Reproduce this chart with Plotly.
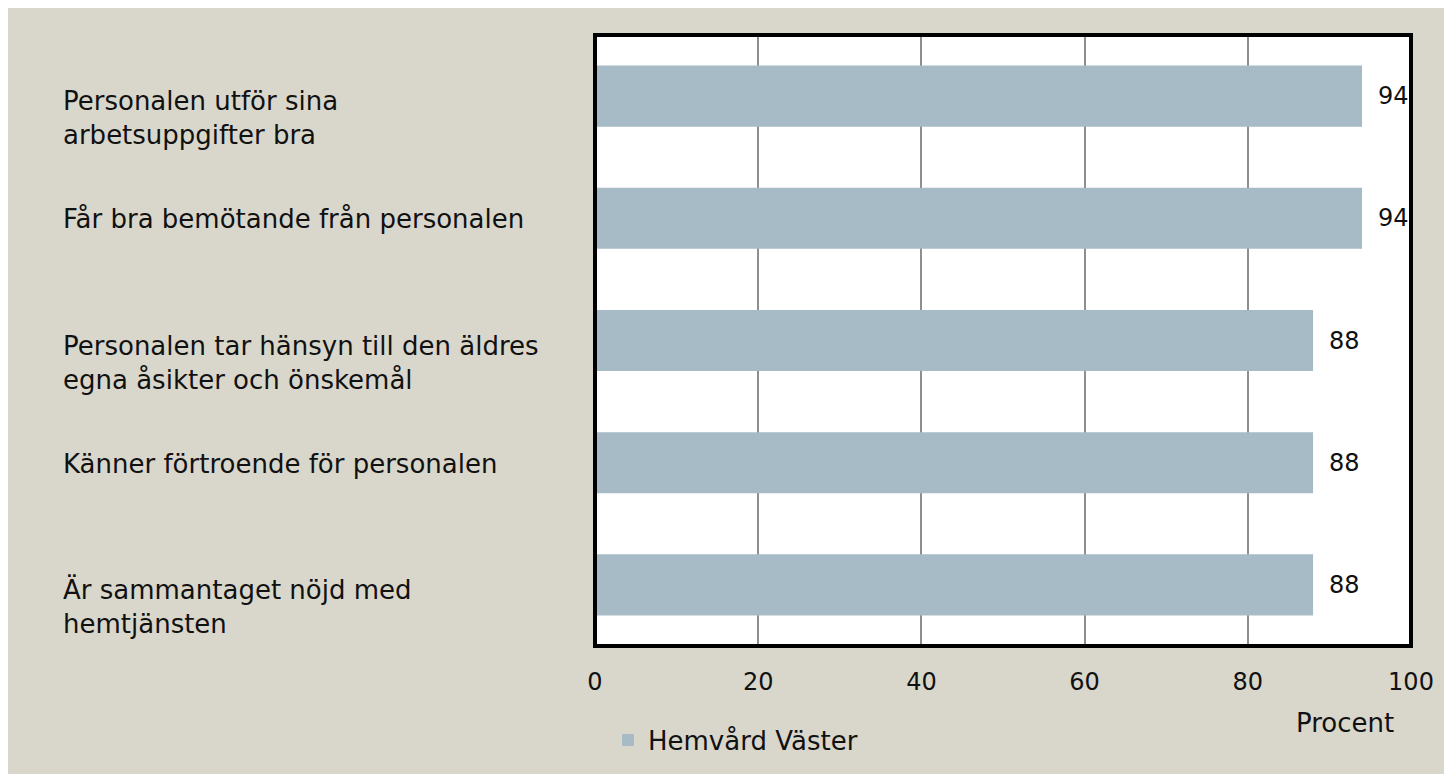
import plotly.graph_objects as go

categories = [
    "Personalen utför sina<br>arbetsuppgifter bra",
    "Får bra bemötande från personalen",
    "Personalen tar hänsyn till den äldres<br>egna åsikter och önskemål",
    "Känner förtroende för personalen",
    "Är sammantaget nöjd med<br>hemtjänsten",
]
values = [94, 94, 88, 88, 88]
series_name = "Hemvård Väster"
x_ticks = [0, 20, 40, 60, 80, 100]
x_title = "Procent"

FONT = "DejaVu Sans"
BEIGE = "#d9d7cc"
BAR = "#a7bbc6"
TXT = "#111111"

OFF = 8                      # page body margin
W, H = 1444, 772             # figure size
L, R, T, B = 587, 1403, 27, 638   # plot area in figure pixels
pw, ph = R - L, B - T

def px(sx):                  # screen x -> paper x
    return (sx - OFF - L) / pw

def py(sy):                  # screen y -> paper y
    return (B - (sy - OFF)) / ph

fig = go.Figure()
fig.add_trace(go.Bar(
    y=categories, x=values, orientation="h", name=series_name,
    marker=dict(color=BAR, line=dict(width=0)), width=0.5,
    showlegend=True,
))

annotations = []
for c, v in zip(categories, values):
    two = "<br>" in c
    annotations.append(dict(
        x=px(61), xref="paper", y=c, yref="y", text=c, showarrow=False,
        xanchor="left", yanchor="middle", align="left",
        yshift=-22 if two else -1,
        font=dict(family=FONT, size=26, color=TXT),
    ))
    annotations.append(dict(
        x=v, xref="x", y=c, yref="y", text=str(v), showarrow=False,
        xanchor="left", yanchor="middle", xshift=14,
        font=dict(family=FONT, size=24, color=TXT),
    ))
annotations.append(dict(
    x=px(1345), xref="paper", y=py(723), yref="paper", text=x_title,
    showarrow=False, xanchor="center", yanchor="middle",
    font=dict(family=FONT, size=26, color=TXT),
))

fig.update_layout(
    width=W, height=H,
    margin=dict(l=L, r=W - R, t=T, b=H - B, pad=0),
    paper_bgcolor=BEIGE, plot_bgcolor="white",
    font=dict(family=FONT, size=24, color=TXT),
    xaxis=dict(
        range=[0, 100], tickvals=x_ticks, ticktext=[str(t) for t in x_ticks],
        showgrid=True, gridcolor="#8e8e8e", gridwidth=2,
        showline=False, zeroline=False, ticks="", ticklabelstandoff=19,
        tickfont=dict(family=FONT, size=24, color=TXT),
        fixedrange=True,
    ),
    yaxis=dict(
        autorange="reversed", showticklabels=False, showgrid=False,
        showline=False, zeroline=False, ticks="", fixedrange=True,
    ),
    legend=dict(
        orientation="h", x=px(608), xanchor="left", y=py(740), yanchor="middle",
        bgcolor="rgba(0,0,0,0)", font=dict(family=FONT, size=26, color=TXT),
    ),
    annotations=annotations,
    shapes=[dict(
        type="rect", xref="paper", yref="paper",
        x0=0, x1=1, y0=0, y1=1,
        line=dict(color="black", width=4), layer="above",
    )],
)

fig.write_html("out.html")
